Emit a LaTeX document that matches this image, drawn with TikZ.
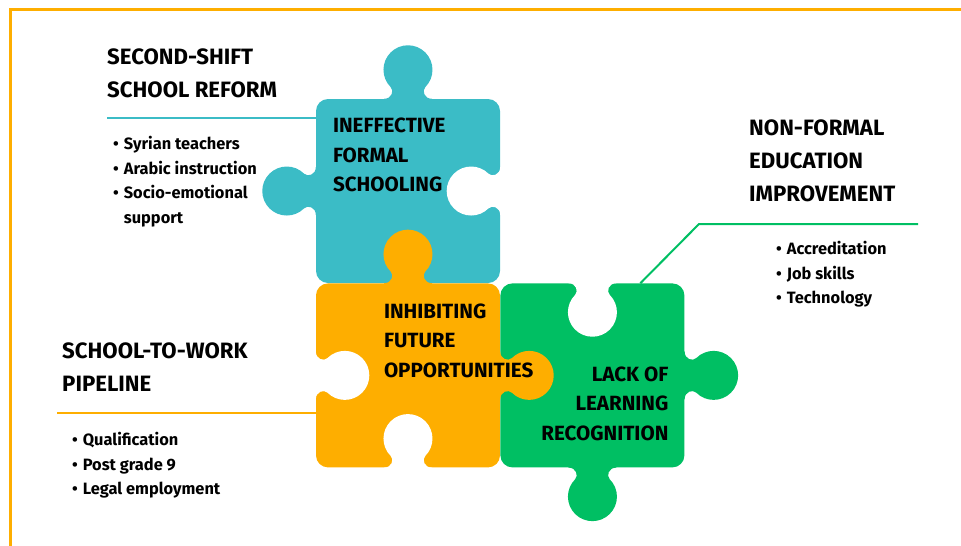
\documentclass[tikz,border=0pt]{standalone}
\usepackage{fontspec}
\setmainfont{Fira Sans}
\usetikzlibrary{positioning}
\definecolor{tealc}{RGB}{59,188,198}
\definecolor{orangec}{RGB}{254,174,0}
\definecolor{greenc}{RGB}{0,191,99}
\tikzset{
piece/.style={
  rectangle,
  rounded corners=12pt,
  minimum size=184pt,
  inner sep=0pt
  },
head/.style={
  anchor=north west,
  inner sep=0pt,
  align=left,
  font=\fontsize{22.2}{33}\selectfont\bfseries
  },
tag/.style={
  inner sep=0pt,
  font=\fontsize{20.6}{29.5}\selectfont\bfseries
  },
bullets/.style={
  anchor=north west,
  inner sep=0pt,
  align=left,
  font=\fontsize{16.4}{24.5}\selectfont\bfseries
  },
link/.style={line width=2pt},
pics/knob/.style={
  code={
    \fill (-24,-1) -- (-24,0) .. controls (-16,0) and (-13.8,8.2) .. (-17.3,11.7)
      arc[start angle=225,end angle=-45,radius=24.5]
      .. controls (13.8,8.2) and (16,0) .. (24,0) -- (24,-1) -- cycle;
  }
}
}

\begin{document}
\begin{tikzpicture}[x=1pt,y=-1pt,node distance=0pt]
    \useasboundingbox (0,0) rectangle (961,546);
    \draw[orangec,line width=3pt] (10.5,546) -- (10.5,9.5) -- (961,9.5);

    \node[piece,fill=tealc] (formal) at (408,191) {};
    \pic[fill=tealc,rotate=180] at (formal.north) {knob};
    \pic[fill=tealc,rotate=-90] at (formal.west) {knob};
    \pic[fill=white,rotate=-90] at (formal.east) {knob};

    \node[piece,fill=orangec,below=of formal] (future) {};
    \node[piece,fill=greenc,right=of future] (recog) {};
    \pic[fill=greenc,rotate=90] at (recog.east) {knob};
    \pic[fill=greenc] at (recog.south) {knob};
    \pic[fill=white] at (recog.north) {knob};

    \pic[fill=orangec,rotate=180] at (future.north) {knob};
    \pic[fill=orangec,rotate=90] at (future.east) {knob};
    \pic[fill=white,rotate=90] at (future.west) {knob};
    \pic[fill=white,rotate=180] at (future.south) {knob};

    \node[tag,anchor=north west,align=left] (formaltxt) at ([shift={(17,19)}]formal.north west) {INEFFECTIVE\\FORMAL\\SCHOOLING};
    \node[tag,anchor=north west,align=left] (futuretxt) at ([shift={(68,20)}]future.north west) {INHIBITING\\FUTURE\\OPPORTUNITIES};
    \node[tag,anchor=north east,align=right] (recogtxt) at ([shift={(-16,83)}]recog.north east) {LACK OF\\LEARNING\\RECOGNITION};

    \node[head] (reform) at (107,49) {SECOND-SHIFT\\SCHOOL REFORM};
    \node[bullets] (reformlist) at (113,136) {\textbullet\hspace{5pt}Syrian teachers\\\textbullet\hspace{5pt}Arabic instruction\\\textbullet\hspace{5pt}Socio-emotional\\\hphantom{\textbullet\hspace{5pt}}support};
    \coordinate (reformend) at (107,118);
    \draw[link,tealc] (reformend) -- (reformend -| formal.west);

    \node[head] (nonformal) at (749,120) {NON-FORMAL\\EDUCATION\\IMPROVEMENT};
    \node[bullets] (nonformallist) at (776,241) {\textbullet\hspace{5pt}Accreditation\\\textbullet\hspace{5pt}Job skills\\\textbullet\hspace{5pt}Technology};
    \coordinate (nonformalend) at (918,224);
    \draw[link,greenc] (nonformalend) -- ++(-219,0) -- ([xshift=48]recog.north);

    \node[head] (pipeline) at (62,343) {SCHOOL-TO-WORK\\PIPELINE};
    \node[bullets] (pipelinelist) at (72,432) {\textbullet\hspace{5pt}Qualification\\\textbullet\hspace{5pt}Post grade 9\\\textbullet\hspace{5pt}Legal employment};
    \coordinate (pipelineend) at (57,413);
    \draw[link,orangec] (pipelineend) -- (pipelineend -| future.west);
\end{tikzpicture}
\end{document}
